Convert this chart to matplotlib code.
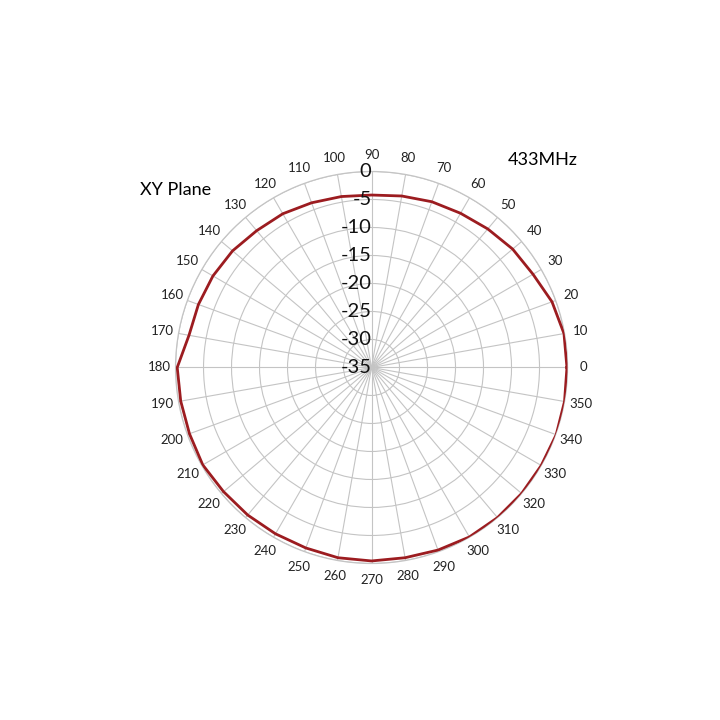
import numpy as np
import matplotlib
matplotlib.use("Agg")
import matplotlib.pyplot as plt

plt.rcParams['font.family'] = ['Lato', 'DejaVu Sans']

# measured XY-plane pattern at 433 MHz, dB, every 10 degrees
angles_deg = list(range(0, 360, 10))
gain_db = [-0.1, -0.1, -0.7, -1.7, -2.1, -2.7, -3.2, -3.5, -3.9, -4.2,
           -4.0, -3.7, -3.3, -3.1, -2.6, -2.3, -2.1, -1.9, -0.3, -0.4,
           -0.4, -0.2, -0.5, -0.6, -0.7, -0.7, -0.5, -0.45, -0.5, -0.3,
           -0.05, 0.0, 0.0, 0.0, 0.1, 0.0]
r_ticks = [-35, -30, -25, -20, -15, -10, -5, 0]
title_left = "XY Plane"
title_right = "433MHz"

grid_col = "#C4C4C4"
line_col = "#9C1C20"

fig = plt.figure(figsize=(7.2, 7.2), dpi=100)
ax = fig.add_axes([0.2438, 0.2174, 0.5444, 0.5444], projection="polar")

theta = np.deg2rad(angles_deg + [angles_deg[0]])
vals = gain_db + [gain_db[0]]
ax.plot(theta, vals, color=line_col, lw=2.0, zorder=5)

ax.set_rlim(-35, 0)
ax.set_rticks(r_ticks)
ax.set_yticklabels([])
ax.set_thetagrids(angles_deg, [""] * len(angles_deg))
ax.grid(True, color=grid_col, lw=0.8)
ax.spines["polar"].set_color(grid_col)
ax.spines["polar"].set_linewidth(0.9)

# angle labels around the outside
for a in angles_deg:
    ax.text(np.deg2rad(a), 2.9, str(a), ha="center", va="center",
            fontsize=9.5, color="#222222", clip_on=False)

# radial labels along the 90 degree spoke
for r in r_ticks:
    ax.text(np.pi / 2, r, str(r), ha="right", va="center",
            fontsize=14.5, color="#111111", zorder=6)

fig.text(140 / 720, 1 - 190 / 720, title_left, ha="left", va="center", fontsize=13)
fig.text(578 / 720, 1 - 160 / 720, title_right, ha="right", va="center", fontsize=13)

fig.savefig("out.png", dpi=100)
